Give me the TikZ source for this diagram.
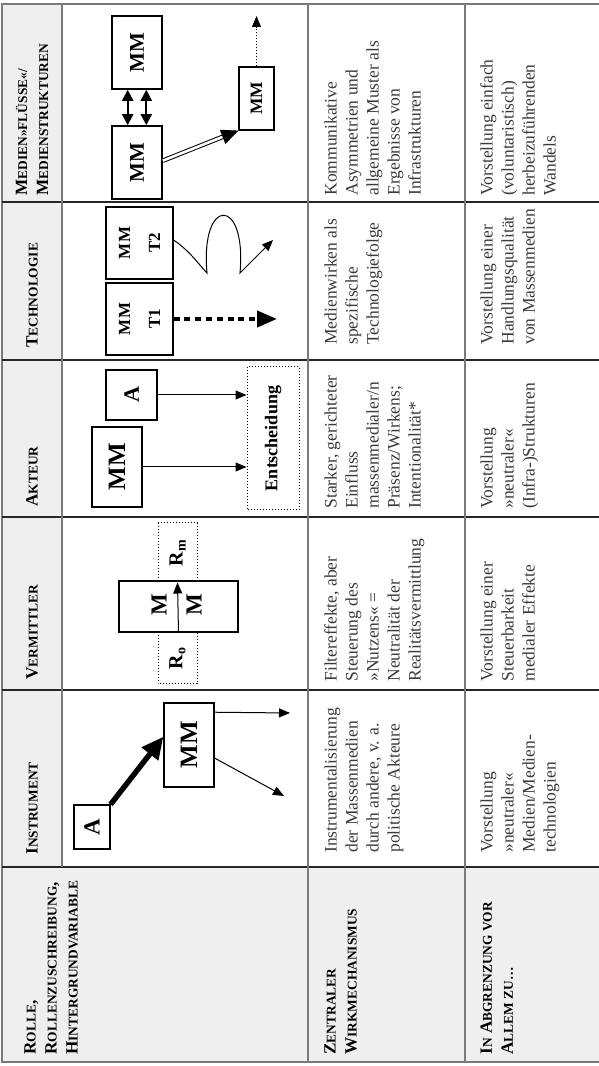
\documentclass[tikz,border=0pt]{standalone}
\usepackage{fontspec}
\setmainfont{Liberation Serif}
\usetikzlibrary{arrows.meta}

\definecolor{headfill}{HTML}{EFEFEF}
\definecolor{rulecol}{HTML}{7A7A7A}
\definecolor{txtgray}{HTML}{3A3A3A}

% Kapitaelchen von Hand
\newcommand{\ksc}[1]{{\fontsize{6.7pt}{10.5pt}\selectfont #1}}

\tikzset{
  headtext/.style={inner sep=0pt, align=left, font=\fontsize{8.6pt}{10.5pt}\selectfont\bfseries},
  bodytext/.style={anchor=north west, inner sep=0pt, align=left, text=txtgray,
    font=\fontsize{8.75pt}{10.5pt}\selectfont},
  mbox/.style={draw, line width=0.6pt, inner sep=0pt, font=\bfseries},
  dbox/.style={draw, densely dotted, line width=0.5pt, inner sep=0pt, font=\bfseries},
  flow/.style={-{Triangle[length=5.5pt,width=4.5pt]}, line width=0.5pt},
  rowline/.style={rulecol, line width=0.9pt},
  colline/.style={black!85, line width=0.6pt},
}

\begin{document}
\begin{tikzpicture}[x=0.5pt, y=-0.5pt]
\useasboundingbox (0,0) rectangle (599,-1066);
\begin{scope}[rotate=90, transform shape]

% Raster
\fill[headfill] (4,2) rectangle (1062,62);
\fill[headfill] (4,2) rectangle (199,600);
\draw[rowline] (4,600) -- (4,2) -- (1062,2) -- (1062,600);
\foreach \cx in {199,376,549,706,864}
  \draw[colline] (\cx,2) -- (\cx,600);
\draw[rowline] (199,62) -- (1062,62);
\foreach \ry in {308,465}
  \draw[rowline] (4,\ry) -- (1062,\ry);

% Kopfzeile
\node[headtext, anchor=west] (h-inst) at (211,32) {I\ksc{NSTRUMENT}};
\node[headtext, anchor=west] (h-verm) at (386,32) {V\ksc{ERMITTLER}};
\node[headtext, anchor=west] (h-akt) at (559,32) {A\ksc{KTEUR}};
\node[headtext, anchor=west] (h-tech) at (718,32) {T\ksc{ECHNOLOGIE}};
\node[headtext, anchor=west] (h-med) at (870,32) {M\ksc{EDIEN»FLÜSSE«/}\\M\ksc{EDIENSTRUKTUREN}};

% Kopfspalte
\node[headtext, anchor=north west] (h-rolle) at (11,24) {R\ksc{OLLE},\\R\ksc{OLLENZUSCHREIBUNG},\\H\ksc{INTERGRUNDVARIABLE}};
\node[headtext, anchor=north west] (h-wirk) at (11,324) {Z\ksc{ENTRALER}\\W\ksc{IRKMECHANISMUS}};
\node[headtext, anchor=north west] (h-abgr) at (11,480) {I\ksc{N} A\ksc{BGRENZUNG VOR}\\A\ksc{LLEM ZU…}};

% Instrument
\node[mbox, minimum width=22pt, minimum height=18pt, font=\bfseries\fontsize{11.5pt}{12pt}\selectfont] (i-a) at (239,92) {A};
\node[mbox, minimum width=42pt, minimum height=25pt, font=\bfseries\fontsize{12.5pt}{13pt}\selectfont] (i-mm) at (321,189) {MM};
\coordinate (i-out1) at (353,290);
\coordinate (i-out2) at (270,284);
\draw[line width=2.7pt, -{Triangle[length=11pt,width=10pt]}] (i-a.south east) -- (i-mm.72);
\draw[flow] (i-mm.-38) -- (i-out1);
\draw[flow] (i-mm.-117) -- (i-out2);

% Vermittler
\node[dbox, minimum width=26pt, minimum height=19.5pt, font=\bfseries\fontsize{10pt}{11pt}\selectfont] (v-ro) at (408,177.5) {R\textsubscript{o}};
\node[dbox, minimum width=29.5pt, minimum height=19.5pt, font=\bfseries\fontsize{10pt}{11pt}\selectfont] (v-rm) at (513.5,177.5) {R\textsubscript{m}};
\node[mbox, fill=white, minimum width=25.5pt, minimum height=59.5pt] (v-box) at (459.5,178.5) {};
\node[inner sep=0pt, font=\bfseries\fontsize{11.5pt}{12pt}\selectfont] (v-m1) at (461,159) {M};
\node[inner sep=0pt, font=\bfseries\fontsize{11.5pt}{12pt}\selectfont] (v-m2) at (461,194) {M};
\draw[flow] (v-box.west) -- (v-rm.west);

% Akteur
\node[mbox, minimum width=25pt, minimum height=25.5pt, font=\bfseries\fontsize{11pt}{12pt}\selectfont] (a-a) at (671,131.5) {A};
\node[mbox, line width=0.8pt, minimum width=40pt, minimum height=25pt, font=\bfseries\fontsize{12.5pt}{13pt}\selectfont] (a-mm) at (599,117) {MM};
\node[dbox, minimum width=71.5pt, minimum height=26pt, font=\bfseries\fontsize{9pt}{10pt}\selectfont] (a-ent) at (627.5,273) {Entscheidung};
\draw[flow] (a-a.south) -- (a-a.south |- a-ent.north);
\draw[flow] (a-mm.south) -- (a-mm.south |- a-ent.north);

% Technologie
\node[mbox, minimum width=36pt, minimum height=33.5pt, align=center, font=\bfseries\fontsize{8.5pt}{15pt}\selectfont] (t-one) at (747,139.5) {MM\\T1};
\node[mbox, minimum width=36pt, minimum height=33.5pt, align=center, font=\bfseries\fontsize{8.5pt}{15pt}\selectfont] (t-two) at (823,139.5) {MM\\T2};
\coordinate (t-end) at (747,277);
\draw[line width=2pt, dash pattern=on 3pt off 2.4pt, -{Triangle[length=10pt,width=8pt]}] (t-one.south) -- (t-end);
\draw[flow] (t-two.-85) .. controls (815,190) and (800,200) .. (793,207)
  .. controls (870,200) and (870,247) .. (793,240)
  .. controls (800,247) and (815,262) .. (826,273);

% Medien-Fluesse
\node[mbox, line width=0.8pt, minimum width=36.5pt, minimum height=25pt, font=\bfseries\fontsize{10.5pt}{12pt}\selectfont] (m-one) at (903.5,137) {MM};
\node[mbox, line width=0.8pt, minimum width=36.5pt, minimum height=25pt, font=\bfseries\fontsize{10.5pt}{12pt}\selectfont] (m-two) at (1013.5,137) {MM};
\node[mbox, minimum width=31.5pt, minimum height=17.5pt, font=\bfseries\fontsize{8.7pt}{10pt}\selectfont] (m-three) at (967.5,256.5) {MM};
\draw[line width=1.1pt, {Triangle[length=5.5pt,width=5.5pt]}-{Triangle[length=5.5pt,width=5.5pt]}] (m-one.14) -- (m-two.166);
\draw[line width=1.1pt, {Triangle[length=5.5pt,width=5.5pt]}-{Triangle[length=5.5pt,width=5.5pt]}] (m-one.-14) -- (m-two.-166);
\draw[double, double distance=1.3pt, line width=0.5pt, -{Triangle[length=8.5pt,width=7.5pt]}] (m-one.-86) -- (m-three.north west);
\coordinate (m-out) at (1050,256.5);
\draw[flow, densely dotted] (m-three.east) -- (m-out);

% Wirkmechanismus
\node[bodytext] (w-inst) at (213,324) {Instrumentalisierung\\der Massenmedien\\durch andere, v. a.\\politische Akteure};
\node[bodytext] (w-verm) at (384,324) {Filtereffekte, aber\\Steuerung des\\»Nutzens« =\\Neutralität der\\Realitätsvermittlung};
\node[bodytext] (w-akt) at (557,324) {Starker, gerichteter\\Einfluss\\massenmedialer/n\\Präsenz/Wirkens;\\Intentionalität*};
\node[bodytext] (w-tech) at (721,324) {Medienwirken als\\spezifische\\Technologiefolge};
\node[bodytext] (w-med) at (870,324) {Kommunikative\\Asymmetrien und\\allgemeine Muster als\\Ergebnisse von\\Infrastrukturen};

% Abgrenzung
\node[bodytext] (g-inst) at (213,480) {Vorstellung\\»neutraler«\\Medien/Medien-\\technologien};
\node[bodytext] (g-verm) at (384,480) {Vorstellung einer\\Steuerbarkeit\\medialer Effekte};
\node[bodytext] (g-akt) at (557,480) {Vorstellung\\»neutraler«\\(Infra-)Strukturen};
\node[bodytext] (g-tech) at (721,480) {Vorstellung einer\\Handlungsqualität\\von Massenmedien};
\node[bodytext] (g-med) at (870,480) {Vorstellung einfach\\(voluntaristisch)\\herbeizuführenden\\Wandels};

\end{scope}
\end{tikzpicture}
\end{document}
